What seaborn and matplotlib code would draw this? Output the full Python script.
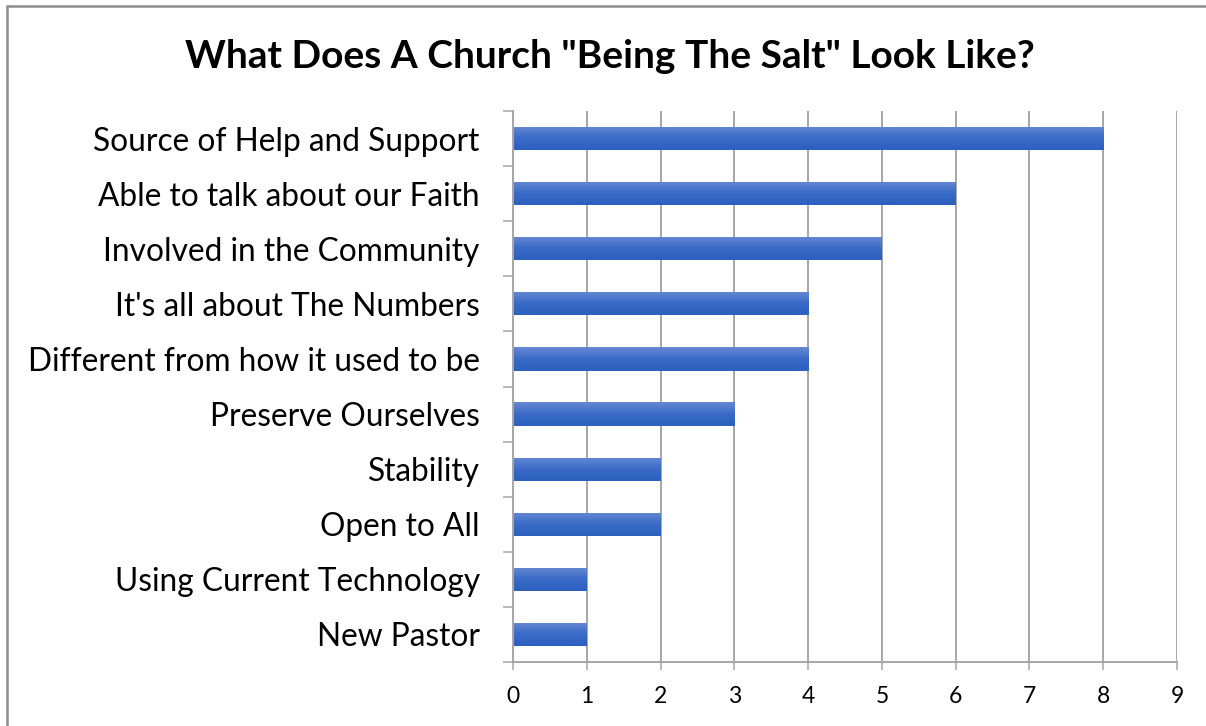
import numpy as np
import pandas as pd
import matplotlib
matplotlib.use("Agg")
import matplotlib.pyplot as plt
from matplotlib.patches import Rectangle
from matplotlib.colors import LinearSegmentedColormap
import seaborn as sns

categories = [
    "Source of Help and Support",
    "Able to talk about our Faith",
    "Involved in the Community",
    "It's all about The Numbers",
    "Different from how it used to be",
    "Preserve Ourselves",
    "Stability",
    "Open to All",
    "Using Current Technology",
    "New Pastor",
]
responses = [8, 6, 5, 4, 4, 3, 2, 2, 1, 1]
x_ticks = [0, 1, 2, 3, 4, 5, 6, 7, 8, 9]
title = 'What Does A Church "Being The Salt" Look Like?'

df = pd.DataFrame({"category": categories, "count": responses})

sns.set_theme(style="white")
plt.rcParams["font.family"] = ["Lato", "DejaVu Sans"]

fig = plt.figure(figsize=(12.06, 7.26), dpi=100)
ax = fig.add_axes([0.4254, 0.0882, 0.976 - 0.4254, 0.847 - 0.0882])

sns.barplot(data=df, x="count", y="category", orient="h", ax=ax,
            width=0.42, color="#3F6CC6", saturation=1, zorder=3)

# vertical gradient fill for each bar: lighter on top, deeper at the bottom
grad = LinearSegmentedColormap.from_list("bar", ["#6688D2", "#3A6BC8", "#2C5FBE"])
ramp = np.linspace(0, 1, 64).reshape(-1, 1)
for p in ax.patches:
    x0, y0 = p.get_x(), p.get_y()
    w, h = p.get_width(), p.get_height()
    im = ax.imshow(ramp, cmap=grad, aspect="auto",
                   extent=(x0, x0 + w, y0 + h, y0), zorder=3,
                   interpolation="bilinear")
    im.set_clip_path(p)
    p.set_facecolor("none")
    p.set_edgecolor("none")

ax.set_xlim(0, 9)
ax.set_ylim(len(categories) - 0.5, -0.5)
ax.set_xticks(x_ticks)
ax.set_xticklabels([str(t) for t in x_ticks])
ax.set_xlabel("")
ax.set_ylabel("")

grid_c = "#A6A6A6"
ax.xaxis.grid(True, color=grid_c, linewidth=1.4, zorder=0)
ax.yaxis.grid(False)
ax.set_axisbelow(True)
for side in ["top", "right"]:
    ax.spines[side].set_visible(False)
for side in ["left", "bottom"]:
    ax.spines[side].set_color(grid_c)
    ax.spines[side].set_linewidth(1.4)
    ax.spines[side].set_zorder(4)

# category ticks sit between the bars
ax.set_yticks(np.arange(-0.5, len(categories), 1.0), minor=True)
ax.tick_params(axis="y", which="minor", left=True, length=7.5, width=1.1,
               color=grid_c, direction="out")
ax.tick_params(axis="y", which="major", length=0, pad=24,
               labelsize=22.8, labelcolor="black")
ax.tick_params(axis="x", which="major", bottom=True, length=6, width=1.1,
               color=grid_c, direction="out", pad=11, labelsize=16.5,
               labelcolor="black")

fig.text(0.506, 0.922, title, ha="center", va="center",
         fontsize=28, fontweight="bold", color="black")

# chart frame
frame = Rectangle((7 / 1206, -0.1), 1.2, 1.0 + 0.1 - 6 / 726,
                  transform=fig.transFigure, fill=False,
                  edgecolor="#8C8C8C", linewidth=1.8, zorder=10)
fig.patches.append(frame)

fig.savefig("out.png", dpi=100, facecolor="white")
